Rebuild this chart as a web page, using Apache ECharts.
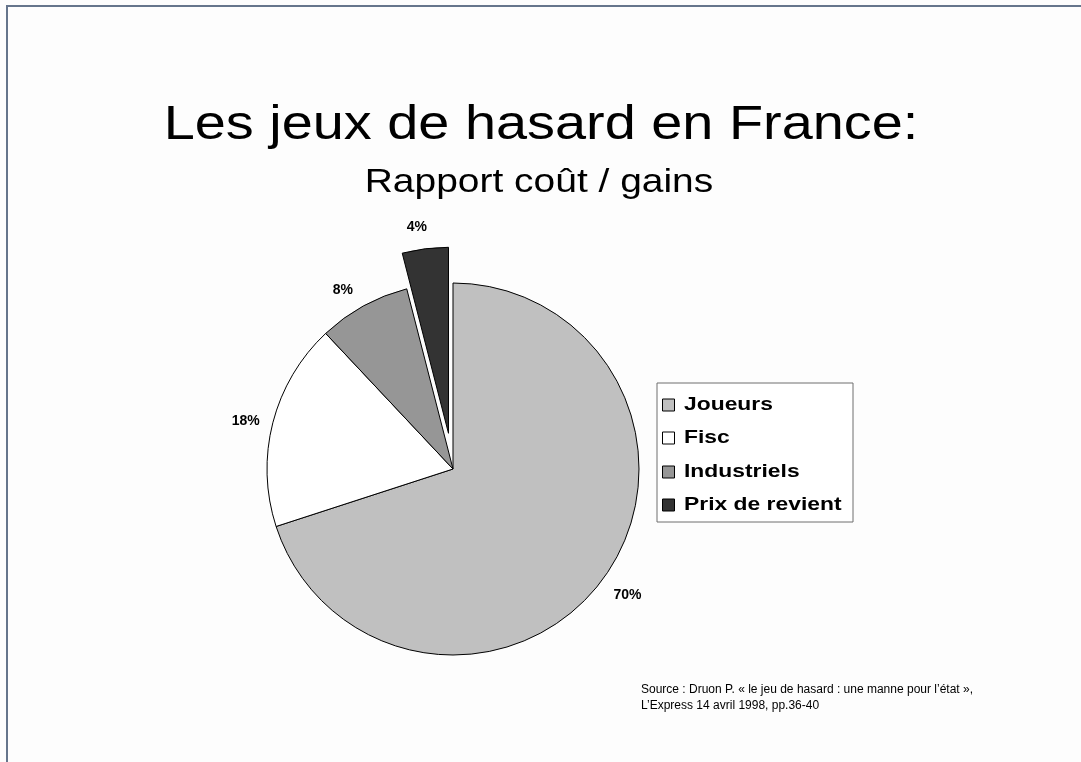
<!DOCTYPE html>
<html>
<head>
<meta charset="utf-8">
<script src="https://cdn.jsdelivr.net/npm/echarts@6/dist/echarts.min.js"></script>
<style>
  html, body { margin: 0; padding: 0; background: #fdfdfd; }
  #chart { width: 1081px; height: 762px; }
</style>
</head>
<body>
<div id="chart"></div>
<script>
// Split of money staked on games of chance in France (percent)
const categories = ['Joueurs', 'Fisc', 'Industriels', 'Prix de revient'];
const shares = [70, 18, 8, 4];
const pulledOut = [false, false, false, true];

const titleText = 'Les jeux de hasard en France:';
const subtitleText = 'Rapport coût / gains';
const sourceLines = [
  'Source : Druon P. « le jeu de hasard : une manne pour l\u2019état »,',
  'L\u2019Express 14 avril 1998, pp.36-40'
];

// Styling
const sliceColors = ['#c0c0c0', '#ffffff', '#969696', '#333333'];
const labelShift = [[3, 2], [-2, 5], [-8, 7], [-5, 4]];   // small nudges of the % labels
const FONT = 'Liberation Sans, Arial, sans-serif';

const pieData = categories.map((name, i) => ({
  name: name,
  value: shares[i],
  selected: pulledOut[i],
  itemStyle: { color: sliceColors[i] }
}));

// Boxed legend: frame, swatches and labels
const legendX = 657, legendY = 383, legendW = 196, legendH = 139;
const legendRowY = [22, 55, 89, 122];
const legendChildren = [
  {
    type: 'rect',
    shape: { x: 0, y: 0, width: legendW, height: legendH },
    style: { fill: '#fff', stroke: '#6e6e6e', lineWidth: 1 }
  }
];
categories.forEach((name, i) => {
  legendChildren.push({
    type: 'rect',
    shape: { x: 5.5, y: legendRowY[i] - 6, width: 12, height: 12 },
    style: { fill: sliceColors[i], stroke: '#000', lineWidth: 1 }
  });
  legendChildren.push({
    type: 'text',
    x: 27,
    y: legendRowY[i],
    scaleX: 1.27,
    style: {
      text: name,
      font: 'bold 18px ' + FONT,
      fill: '#000',
      textAlign: 'left',
      textVerticalAlign: 'middle'
    }
  });
});

const chart = echarts.init(document.getElementById('chart'), null, { renderer: 'canvas' });

chart.setOption({
  backgroundColor: '#fdfdfd',
  animation: false,
  graphic: [
    {
      type: 'polyline',
      silent: true,
      shape: { points: [[7, 762], [7, 6], [1081, 6]] },
      style: { fill: null, stroke: '#66758c', lineWidth: 2 }
    },
    {
      type: 'text',
      x: 541,
      y: 125,
      scaleX: 1.14,
      style: {
        text: titleText,
        font: '49px ' + FONT,
        fill: '#000',
        textAlign: 'center',
        textVerticalAlign: 'middle'
      }
    },
    {
      type: 'text',
      x: 539,
      y: 183,
      scaleX: 1.18,
      style: {
        text: subtitleText,
        font: '33px ' + FONT,
        fill: '#000',
        textAlign: 'center',
        textVerticalAlign: 'middle'
      }
    },
    {
      type: 'group',
      x: legendX,
      y: legendY,
      silent: true,
      children: legendChildren
    },
    {
      type: 'text',
      x: 641,
      y: 682,
      style: {
        text: sourceLines.join('\n'),
        font: '12px ' + FONT,
        lineHeight: 16,
        fill: '#000'
      }
    }
  ],
  series: [
    {
      type: 'pie',
      name: 'Rapport coût / gains',
      center: [453, 469],
      radius: 186,
      startAngle: 90,
      clockwise: true,
      selectedMode: 'multiple',
      selectedOffset: 36,
      avoidLabelOverlap: false,
      emphasis: { disabled: true },
      select: { itemStyle: { borderColor: '#000', borderWidth: 1 } },
      itemStyle: { borderColor: '#000', borderWidth: 1 },
      label: {
        show: true,
        position: 'outside',
        formatter: '{c}%',
        fontFamily: FONT,
        fontSize: 14,
        fontWeight: 'bold',
        color: '#000',
        distanceToLabelLine: 0
      },
      labelLine: { show: false, length: 26, length2: 0 },
      labelLayout: function (params) {
        const s = labelShift[params.dataIndex];
        return { align: 'center', verticalAlign: 'middle', dx: s[0], dy: s[1] };
      },
      data: pieData
    }
  ]
});
</script>
</body>
</html>
